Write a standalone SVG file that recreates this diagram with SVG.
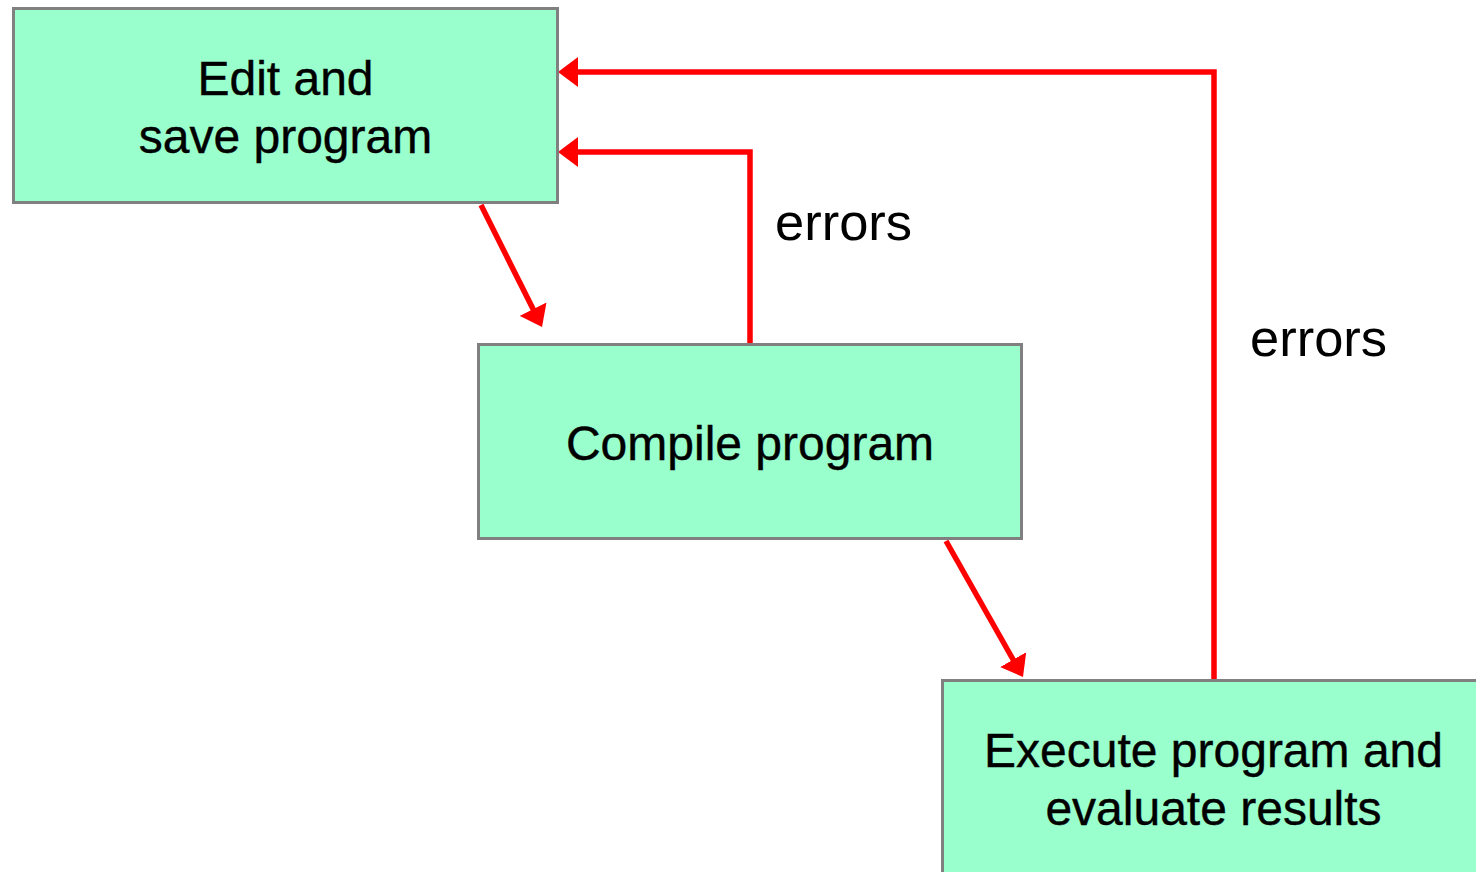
<svg xmlns="http://www.w3.org/2000/svg" width="1476" height="872" viewBox="0 0 1476 872">
<style>
.box{fill:#99ffcc;stroke:#808080;stroke-width:3}
.nt{font-family:"Liberation Sans",Arial,sans-serif;font-size:48px;fill:#000;text-anchor:middle;stroke:#000;stroke-width:0.4}
.lbl{font-family:"Liberation Sans",Arial,sans-serif;font-size:52.5px;fill:#000}
.conn{fill:none;stroke:#ff0000;stroke-width:5.5;marker-end:url(#ah)}
</style>
<defs>
<marker id="ah" viewBox="0 0 20 30" refX="5" refY="15" markerWidth="20" markerHeight="30" markerUnits="userSpaceOnUse" orient="auto">
<path d="M0,0 L20,15 L0,30 z" fill="#ff0000"/>
</marker>
</defs>
<rect width="1476" height="872" fill="#ffffff"/>
<g id="connectors">
<path class="conn" d="M481,205 L535.3,313.6"/>
<path class="conn" d="M946,541 L1015.6,664"/>
<path class="conn" d="M750,343 V152 H573"/>
<path class="conn" d="M1214,679 V72 H573"/>
<text class="lbl" x="775" y="240">errors</text>
<text class="lbl" x="1250" y="356">errors</text>
</g>
<g id="edit">
<rect class="box" x="13.5" y="8.5" width="544" height="194"/>
<text class="nt" x="285.5" y="95">Edit and</text>
<text class="nt" x="285.5" y="153">save program</text>
</g>
<g id="compile">
<rect class="box" x="478.5" y="344.5" width="543" height="194"/>
<text class="nt" x="750" y="460">Compile program</text>
</g>
<g id="execute">
<rect class="box" x="942.5" y="680.5" width="600" height="220"/>
<text class="nt" x="1213.5" y="767">Execute program and</text>
<text class="nt" x="1213.5" y="825">evaluate results</text>
</g>
</svg>
